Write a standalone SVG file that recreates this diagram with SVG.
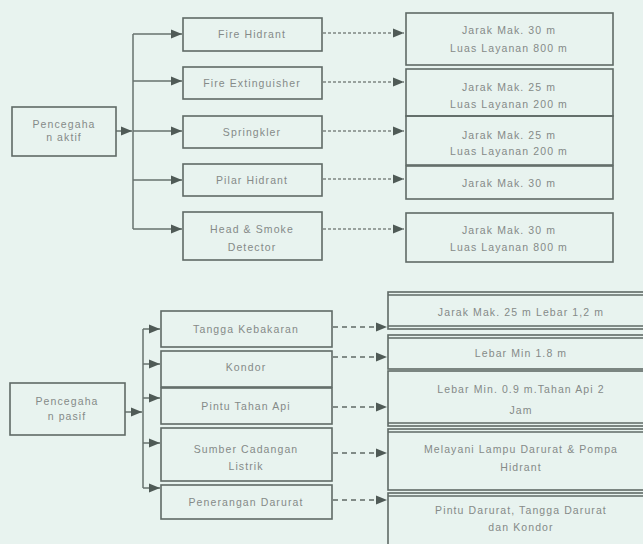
<svg xmlns="http://www.w3.org/2000/svg" width="643" height="544" viewBox="0 0 643 544">
<style>
.box{fill:none;stroke:#5f6a66;stroke-width:1.6}
.ln{fill:none;stroke:#67726e;stroke-width:1.5}
.d1{fill:none;stroke:#7d8783;stroke-width:1.3;stroke-dasharray:3 2}
.d2{fill:none;stroke:#5f6a66;stroke-width:1.5;stroke-dasharray:5 4}
text{font-family:"Liberation Sans",Arial,sans-serif;font-size:10.5px;fill:#858a88;text-anchor:middle;letter-spacing:1.1px}
</style>
<defs>
<marker id="ah" markerUnits="userSpaceOnUse" markerWidth="12" markerHeight="10" refX="11" refY="5" orient="auto">
<path d="M0,0.5 L11,5 L0,9.5 Z" fill="#4f5a56"/>
</marker>
</defs>
<rect width="643" height="544" fill="#e8f3ef"/>
<g id="connectors">
<line class="ln" x1="116" y1="131" x2="132" y2="131" marker-end="url(#ah)"/>
<line class="ln" x1="133" y1="34" x2="133" y2="229"/>
<line class="ln" x1="133" y1="34" x2="182" y2="34" marker-end="url(#ah)"/>
<line class="ln" x1="133" y1="81" x2="182" y2="81" marker-end="url(#ah)"/>
<line class="ln" x1="133" y1="131" x2="182" y2="131" marker-end="url(#ah)"/>
<line class="ln" x1="133" y1="180" x2="182" y2="180" marker-end="url(#ah)"/>
<line class="ln" x1="133" y1="229" x2="182" y2="229" marker-end="url(#ah)"/>
<line class="d1" x1="323" y1="33" x2="404" y2="33" marker-end="url(#ah)"/>
<line class="d1" x1="323" y1="82" x2="404" y2="82" marker-end="url(#ah)"/>
<line class="d1" x1="323" y1="131" x2="404" y2="131" marker-end="url(#ah)"/>
<line class="d1" x1="323" y1="179" x2="404" y2="179" marker-end="url(#ah)"/>
<line class="d1" x1="323" y1="229" x2="404" y2="229" marker-end="url(#ah)"/>
<line class="ln" x1="125" y1="412" x2="142" y2="412" marker-end="url(#ah)"/>
<line class="ln" x1="143" y1="329" x2="143" y2="488"/>
<line class="ln" x1="143" y1="329" x2="160" y2="329" marker-end="url(#ah)"/>
<line class="ln" x1="143" y1="364" x2="160" y2="364" marker-end="url(#ah)"/>
<line class="ln" x1="143" y1="398" x2="160" y2="398" marker-end="url(#ah)"/>
<line class="ln" x1="143" y1="443" x2="160" y2="443" marker-end="url(#ah)"/>
<line class="ln" x1="143" y1="488" x2="160" y2="488" marker-end="url(#ah)"/>
<line class="d2" x1="333" y1="327" x2="387" y2="327" marker-end="url(#ah)"/>
<line class="d2" x1="333" y1="357" x2="387" y2="357" marker-end="url(#ah)"/>
<line class="d2" x1="333" y1="407" x2="387" y2="407" marker-end="url(#ah)"/>
<line class="d2" x1="333" y1="453" x2="387" y2="453" marker-end="url(#ah)"/>
<line class="d2" x1="333" y1="500" x2="387" y2="500" marker-end="url(#ah)"/>
</g>
<g id="aktif"><rect class="box" x="12" y="107" width="104" height="49"/><text x="64" y="128">Pencegaha</text><text x="64" y="141">n aktif</text></g>
<g id="fire-hidrant"><rect class="box" x="183" y="18" width="139" height="33"/><text x="252" y="38">Fire Hidrant</text></g>
<g id="fire-ext"><rect class="box" x="183" y="67" width="139" height="32"/><text x="252" y="87">Fire Extinguisher</text></g>
<g id="springkler"><rect class="box" x="183" y="116" width="139" height="32"/><text x="252" y="136">Springkler</text></g>
<g id="pilar"><rect class="box" x="183" y="164" width="139" height="32"/><text x="252" y="184">Pilar Hidrant</text></g>
<g id="detector"><rect class="box" x="183" y="212" width="139" height="48"/><text x="252" y="233">Head &amp; Smoke</text><text x="252" y="251">Detector</text></g>
<g id="r1"><rect class="box" x="406" y="13" width="207" height="52"/><text x="509" y="34">Jarak Mak. 30 m</text><text x="509" y="52">Luas Layanan 800 m</text></g>
<g id="r2"><rect class="box" x="406" y="69" width="207" height="47"/><text x="509" y="91">Jarak Mak. 25 m</text><text x="509" y="108">Luas Layanan 200 m</text></g>
<g id="r3"><rect class="box" x="406" y="116" width="207" height="49"/><text x="509" y="139">Jarak Mak. 25 m</text><text x="509" y="155">Luas Layanan 200 m</text></g>
<g id="r4"><rect class="box" x="406" y="166" width="207" height="33"/><text x="509" y="187">Jarak Mak. 30 m</text></g>
<g id="r5"><rect class="box" x="406" y="213" width="207" height="49"/><text x="509" y="234">Jarak Mak. 30 m</text><text x="509" y="251">Luas Layanan 800 m</text></g>
<g id="pasif"><rect class="box" x="10" y="383" width="115" height="52"/><text x="67" y="405">Pencegaha</text><text x="67" y="420">n pasif</text></g>
<g id="tangga"><rect class="box" x="161" y="311" width="171" height="36"/><text x="246" y="333">Tangga Kebakaran</text></g>
<g id="kondor"><rect class="box" x="161" y="351" width="171" height="36"/><text x="246" y="371">Kondor</text></g>
<g id="pintu"><rect class="box" x="161" y="388" width="171" height="36"/><text x="246" y="410">Pintu Tahan Api</text></g>
<g id="sumber"><rect class="box" x="161" y="428" width="171" height="53"/><text x="246" y="453">Sumber Cadangan</text><text x="246" y="470">Listrik</text></g>
<g id="penerangan"><rect class="box" x="161" y="485" width="171" height="34"/><text x="246" y="506">Penerangan Darurat</text></g>
<g id="b1"><rect class="box" x="388" y="292" width="270" height="37"/><line class="box" x1="388" y1="295" x2="643" y2="295"/><line class="box" x1="388" y1="326" x2="643" y2="326"/><text x="521" y="316">Jarak Mak. 25 m Lebar 1,2 m</text></g>
<g id="b2"><rect class="box" x="388" y="335" width="270" height="34"/><line class="box" x1="388" y1="338" x2="643" y2="338"/><text x="521" y="357">Lebar Min 1.8 m</text></g>
<g id="b3"><rect class="box" x="388" y="371" width="270" height="55"/><line class="box" x1="388" y1="423" x2="643" y2="423"/><text x="521" y="393">Lebar Min. 0.9 m.Tahan Api 2</text><text x="521" y="414">Jam</text></g>
<g id="b4"><rect class="box" x="388" y="429" width="270" height="61"/><line class="box" x1="388" y1="432" x2="643" y2="432"/><text x="521" y="453">Melayani Lampu Darurat &amp; Pompa</text><text x="521" y="471">Hidrant</text></g>
<g id="b5"><rect class="box" x="388" y="493" width="270" height="60"/><line class="box" x1="388" y1="496" x2="643" y2="496"/><text x="521" y="514">Pintu Darurat, Tangga Darurat</text><text x="521" y="531">dan Kondor</text></g>
</svg>
